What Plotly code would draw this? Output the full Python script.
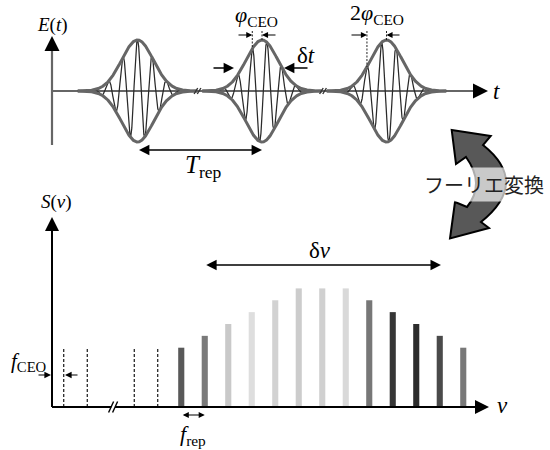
import numpy as np
import plotly.graph_objects as go

# ---------------- data ----------------
# Top panel: pulse train E(t); time in units of T_rep, field in units of peak amplitude
pulse_centers = [1.0, 2.0, 3.0]
pulse_ceo_lead = [0.0, 0.078, 0.157]      # carrier-peak lead: 0, phi_CEO, 2*phi_CEO
pulse_sigma = 0.128
carrier_period = 0.117
time_breaks = [1.482, 2.49]

# Bottom panel: frequency comb S(nu); frequency in units of f_rep
f_ceo = 0.5
dashed_modes = [0, 1, 3, 4]
dashed_height = 5
bar_modes = [5, 6, 7, 8, 9, 10, 11, 12, 13, 14, 15, 16, 17]
bar_heights = [5, 6, 7, 8, 9, 10, 10, 10, 9, 8, 7, 6, 5]
bar_colors = ["#595959", "#7a7a7a", "#c9c9c9", "#dedede", "#d2d2d2", "#cccccc", "#d0d0d0",
              "#d9d9d9", "#777777", "#363636", "#2d2d2d", "#4a4a4a", "#787878"]
freq_breaks = [2.6]
delta_nu_span = [6.5, 16.55]

fourier_text = "フーリエ変換"

# ---------------- layout mapping (pixels of a 550x450 canvas) ----------------
W, H = 550, 450
T_PX, T1_PX = 124.5, 137.5         # px per T_rep, px of t=1
E_PX, E0_PX = 51.0, 91.0           # px per unit field, px of E=0
NU_PX, NU0_PX = 23.5, 52.0         # px per f_rep, px of nu=0
S_PX, S0_PX = 11.86, 407.0         # px per unit, px of S=0


def t_of(px):
    return 1 + (px - T1_PX) / T_PX


def e_of(py):
    return (E0_PX - py) / E_PX


def nu_of(px):
    return (px - NU0_PX) / NU_PX


def s_of(py):
    return (S0_PX - py) / S_PX


SERIF = "Liberation Serif"
AX_GRAY = "#666666"

fig = go.Figure()

# ---- top panel ----
t_axis0 = t_of(52)
fig.add_trace(go.Scatter(x=[t_axis0, t_of(480)], y=[0, 0], mode="lines",
                         line=dict(color=AX_GRAY, width=2.2), xaxis="x", yaxis="y"))
fig.add_trace(go.Scatter(x=[t_axis0, t_axis0], y=[e_of(145), e_of(46)], mode="lines",
                         line=dict(color=AX_GRAY, width=2.2), xaxis="x", yaxis="y"))


def env(t, tc):
    return np.exp(-((t - tc) ** 2) / (2 * pulse_sigma ** 2))


for tc, lead in zip(pulse_centers, pulse_ceo_lead):
    tt = np.linspace(tc - 0.48, tc + 0.48, 1600)
    en = env(tt, tc)
    car = en * np.cos(2 * np.pi * (tt - (tc - lead)) / carrier_period)
    fig.add_trace(go.Scatter(x=tt, y=car, mode="lines", line=dict(color="#2a2a2a", width=1.25),
                             xaxis="x", yaxis="y"))
    for sgn in (1, -1):
        fig.add_trace(go.Scatter(x=tt, y=sgn * en, mode="lines",
                                 line=dict(color=AX_GRAY, width=3), xaxis="x", yaxis="y"))

# break marks on time axis
for tb in time_breaks:
    for off in (-1.6, 1.6):
        x0 = tb + off / T_PX
        fig.add_trace(go.Scatter(x=[x0 - 1.8 / T_PX, x0 + 1.8 / T_PX], y=[-3 / E_PX, 3 / E_PX],
                                 mode="lines", line=dict(color="#333333", width=1.4),
                                 xaxis="x", yaxis="y"))

# dotted phase markers
for k in (1, 2):
    tc, lead = pulse_centers[k], pulse_ceo_lead[k]
    for tx in (tc - lead, tc):
        fig.add_trace(go.Scatter(x=[tx, tx], y=[e_of(31), env(tx, tc)], mode="lines",
                                 line=dict(color="#222222", width=1, dash="2px,1.5px"),
                                 xaxis="x", yaxis="y"))

# ---- bottom panel ----
nu_break = freq_breaks[0]
fig.add_trace(go.Scatter(x=[0, 0], y=[0, s_of(226)], mode="lines",
                         line=dict(color="black", width=2), xaxis="x2", yaxis="y2"))
fig.add_trace(go.Scatter(x=[0, nu_break - 0.08], y=[0, 0], mode="lines",
                         line=dict(color="black", width=2), xaxis="x2", yaxis="y2"))
fig.add_trace(go.Scatter(x=[nu_break + 0.08, nu_of(480)], y=[0, 0], mode="lines",
                         line=dict(color="black", width=2), xaxis="x2", yaxis="y2"))
for off in (-2.0, 2.0):
    x0 = nu_break + off / NU_PX
    fig.add_trace(go.Scatter(x=[x0 - 2.5 / NU_PX, x0 + 2.5 / NU_PX], y=[-5.5 / S_PX, 5.5 / S_PX],
                             mode="lines", line=dict(color="black", width=1.4),
                             xaxis="x2", yaxis="y2"))

for n in dashed_modes:
    xv = f_ceo + n
    fig.add_trace(go.Scatter(x=[xv, xv], y=[0, dashed_height], mode="lines",
                             line=dict(color="black", width=1.1, dash="3px,2px"),
                             xaxis="x2", yaxis="y2"))

fig.add_trace(go.Bar(x=[f_ceo + n for n in bar_modes], y=bar_heights, width=0.26,
                     marker=dict(color=bar_colors, line=dict(width=0)),
                     xaxis="x2", yaxis="y2"))

# ---- annotations ----
ann = []


def arrow(x, y, ax, ay, ref, color="black", w=1.5, size=1.0, head=2, both=False):
    xr, yr = ref
    d = dict(x=x, y=y, ax=ax, ay=ay, xref=xr, yref=yr, axref=xr, ayref=yr, text="",
             showarrow=True, arrowhead=head, arrowsize=size, arrowwidth=w,
             arrowcolor=color, standoff=0)
    if both:
        d.update(arrowside="end+start", startarrowhead=head, startarrowsize=size, startstandoff=0)
    return d


def label(text, x, y, ref, size, family=SERIF, color="black"):
    return dict(x=x, y=y, xref=ref[0], yref=ref[1], text=text, showarrow=False,
                font=dict(family=family, size=size, color=color),
                xanchor="center", yanchor="middle")


TOP = ("x", "y")
BOT = ("x2", "y2")

# axis arrowheads
ann.append(arrow(t_axis0, e_of(36), t_axis0, e_of(50), TOP, w=2, size=1.5, head=2))
ann.append(arrow(t_of(488), 0, t_of(474), 0, TOP, w=2, size=1.5, head=2))
ann.append(arrow(0, s_of(217), 0, s_of(232), BOT, w=2, size=1.4, head=2))
ann.append(arrow(nu_of(489), 0, nu_of(474), 0, BOT, w=2, size=1.4, head=2))

# T_rep
ann.append(arrow(pulse_centers[1], e_of(150), pulse_centers[0], e_of(150), TOP,
                 w=1.6, size=1.3, head=2, both=True))
# phi_CEO arrows
c2, l2 = pulse_centers[1], pulse_ceo_lead[1]
ann.append(arrow(c2 - l2, e_of(35), t_of(237), e_of(35), TOP, w=1.1, size=1.1))
ann.append(arrow(c2, e_of(35), t_of(277), e_of(35), TOP, w=1.1, size=1.1))
c3, l3 = pulse_centers[2], pulse_ceo_lead[2]
ann.append(arrow(c3 - l3, e_of(35), t_of(350), e_of(35), TOP, w=1.1, size=1.1))
ann.append(arrow(c3, e_of(35), t_of(401), e_of(35), TOP, w=1.1, size=1.1))
# delta t arrows
ann.append(arrow(t_of(234), e_of(68), t_of(212), e_of(68), TOP, w=1.6, size=1.3))
ann.append(arrow(t_of(284), e_of(68), t_of(309), e_of(68), TOP, w=1.6, size=1.3))

# f_CEO arrows
ann.append(arrow(nu_of(51), s_of(375), nu_of(37), s_of(375), BOT, w=1.2, size=1.1))
ann.append(arrow(nu_of(65), s_of(375), nu_of(79), s_of(375), BOT, w=1.2, size=1.1))
# f_rep arrow
ann.append(arrow(f_ceo + bar_modes[1], s_of(415), f_ceo + bar_modes[0], s_of(415), BOT,
                 w=1.1, size=1.1, both=True))
# delta nu arrow
ann.append(arrow(delta_nu_span[1], s_of(265), delta_nu_span[0], s_of(265), BOT,
                 w=1.6, size=1.3, both=True))

# text labels
ann.append(label("<i>E</i>(<i>t</i>)", t_of(52), e_of(25), TOP, 19))
ann.append(label("<i>t</i>", t_of(496), e_of(91), TOP, 23))
ann.append(label("<i>φ</i><sub>CEO</sub>", t_of(256), e_of(16), TOP, 22))
ann.append(label("2<i>φ</i><sub>CEO</sub>", t_of(377), e_of(14), TOP, 22))
ann.append(label("δ<i>t</i>", t_of(306), e_of(55), TOP, 23))
ann.append(label("<i>T</i><sub>rep</sub>", t_of(203), e_of(166), TOP, 25))

ann.append(label("<i>S</i>(<i>ν</i>)", nu_of(56), s_of(202), BOT, 19))
ann.append(label("<i>ν</i>", nu_of(502), s_of(405), BOT, 23))
ann.append(label("<i>f</i><sub>CEO</sub>", nu_of(28), s_of(362), BOT, 21))
ann.append(label("<i>f</i><sub>rep</sub>", nu_of(193), s_of(435), BOT, 22))
ann.append(label("δ<i>ν</i>", nu_of(320), s_of(250), BOT, 23))

# Fourier transform label with translucent band
ann.append(dict(x=484 / W, y=1 - 184 / H, xref="paper", yref="paper", text=fourier_text,
                showarrow=False, xanchor="center", yanchor="middle",
                font=dict(family="Noto Sans CJK JP", size=20, color="#222222"),
                bgcolor="rgba(255,255,255,0.68)", borderpad=2))


# curved double arrow (decorative shape, paper coords)
def P(x, y):
    return f"{x / W:.5f},{1 - y / H:.5f}"


path = (f"M {P(451.7, 130)} L {P(490.7, 136)} L {P(483, 145)} "
        f"Q {P(530, 182.5)} {P(481, 222)} L {P(489, 228)} L {P(450, 238.5)} "
        f"L {P(455, 202)} L {P(467, 207)} Q {P(485.5, 184)} {P(466, 157)} "
        f"L {P(456, 164)} Z")
shapes = [dict(type="path", path=path, xref="paper", yref="paper",
               fillcolor="#585858", line=dict(color="black", width=2))]

fig.update_layout(
    width=W, height=H, margin=dict(l=0, r=0, t=0, b=0), autosize=False,
    paper_bgcolor="white", plot_bgcolor="white", showlegend=False,
    xaxis=dict(range=[t_of(0), t_of(W)], domain=[0, 1], visible=False, fixedrange=True),
    yaxis=dict(range=[e_of(H), e_of(0)], domain=[0, 1], visible=False, fixedrange=True),
    xaxis2=dict(range=[nu_of(0), nu_of(W)], overlaying="x", anchor="y2",
                visible=False, fixedrange=True),
    yaxis2=dict(range=[s_of(H), s_of(0)], overlaying="y", anchor="x2",
                visible=False, fixedrange=True),
    annotations=ann, shapes=shapes,
)

fig.write_html("out.html", config={"displayModeBar": False},
               post_script="document.body.style.margin='0';document.body.style.padding='0';")
